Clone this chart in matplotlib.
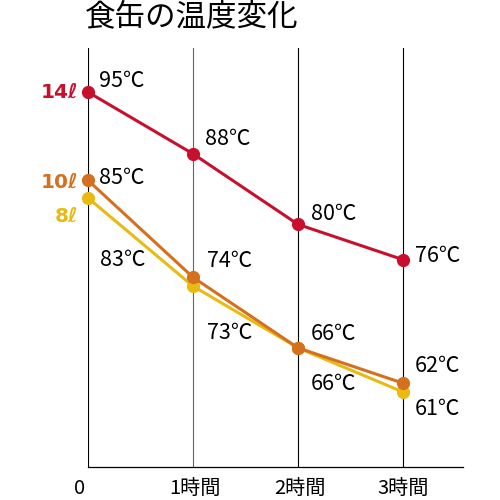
import matplotlib
matplotlib.use("Agg")
import matplotlib.pyplot as plt

plt.rcParams['font.family'] = ['Noto Sans CJK JP', 'DejaVu Sans']

# data
hours = [0, 1, 2, 3]
hour_labels = ["0", "1時間", "2時間", "3時間"]
series_names = ["14ℓ", "10ℓ", "8ℓ"]
temp_14 = [95, 88, 80, 76]
temp_10 = [85, 74, 66, 62]
temp_8 = [83, 73, 66, 61]

colors = ["#C8102E", "#D4701E", "#E8BA12"]
# label offsets in pixels (dx, dy) for each point's value text
label_offsets = [
    [(11, 11), (12, 15), (13, 10), (12, 4)],
    [(11, 2), (14, 16), (13, 14), (12, 17)],
    [(12, -62), (14, -47), (13, -36), (12, -17)],
]
name_offsets = [(-10, 0), (-10, -2), (-10, -18)]
tick_offsets = [-8, 2, 2, 0]

fig = plt.figure(figsize=(5, 5), dpi=100)
ax = fig.add_axes([0.176, 0.066, 0.75, 0.838])

ax.set_xlim(0, 3.57)
ax.set_ylim(52.5, 100)

# vertical guide lines
for h in hours:
    ax.axvline(h, color="#666666" if h == 1 else "black", lw=0.8, zorder=1)

for i, temps in enumerate([temp_14, temp_10, temp_8][::-1]):
    idx = 2 - i
    ax.plot(hours, temps, color=colors[idx], lw=2.2, marker="o", ms=8.5,
            zorder=3 + i, clip_on=False)

for idx, temps in enumerate([temp_14, temp_10, temp_8]):
    for h, t, (dx, dy) in zip(hours, temps, label_offsets[idx]):
        ax.annotate(f"{t}℃", (h, t), xytext=(dx, dy), textcoords="offset pixels",
                    ha="left", va="center", fontsize=15.5, color="black")
    ax.annotate(series_names[idx], (0, temps[0]), xytext=name_offsets[idx],
                textcoords="offset pixels", ha="right", va="center",
                fontsize=14.5, fontweight="bold", color=colors[idx],
                family="DejaVu Sans", annotation_clip=False)

for side in ["top", "right", "left"]:
    ax.spines[side].set_visible(False)
ax.spines["bottom"].set_linewidth(0.9)
ax.set_yticks([])
ax.set_xticks([])

for h, lab, dx in zip(hours, hour_labels, tick_offsets):
    ax.annotate(lab, (h, 52.5), xytext=(dx, -21), textcoords="offset pixels",
                ha="center", va="center", fontsize=14.5, annotation_clip=False)

fig.text(0.17, 0.966, "食缶の温度変化", fontsize=22, ha="left", va="center")

fig.savefig("out.png", dpi=100)
